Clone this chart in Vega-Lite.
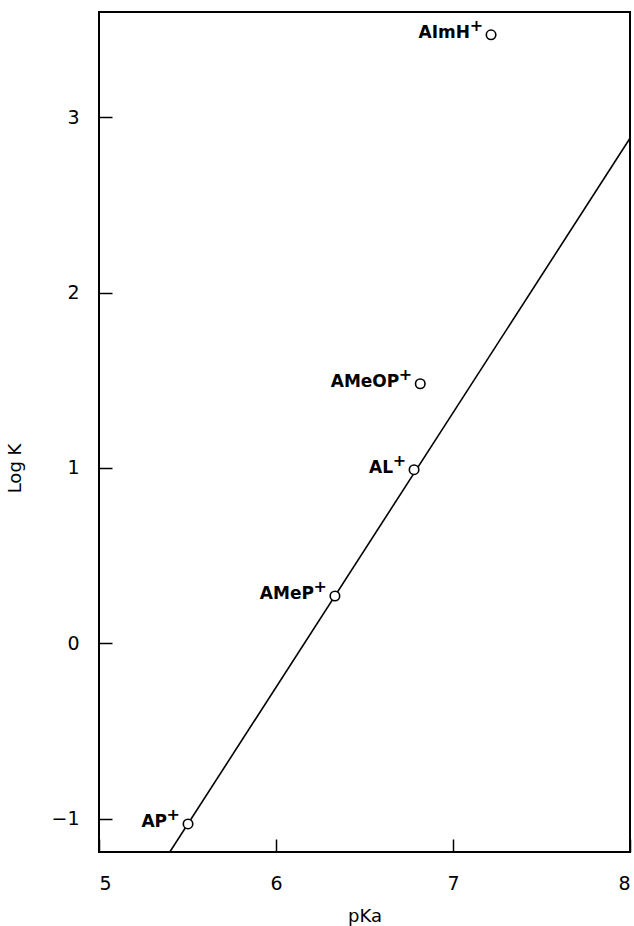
{
  "$schema": "https://vega.github.io/schema/vega-lite/v6.json",
  "width": 531,
  "height": 840,
  "autosize": "none",
  "padding": {"left": 99, "top": 12, "right": 4, "bottom": 74},
  "background": "white",
  "config": {
    "view": {"stroke": "black", "strokeWidth": 2},
    "font": "DejaVu Sans"
  },
  "datasets": {
    "pts": [
      {"pKa": 5.503, "logK": -1.03, "label": "AP"},
      {"pKa": 6.333, "logK": 0.27, "label": "AMeP"},
      {"pKa": 6.78, "logK": 0.99, "label": "AL"},
      {"pKa": 6.815, "logK": 1.48, "label": "AMeOP"},
      {"pKa": 7.215, "logK": 3.47, "label": "AImH"}
    ],
    "fit": [
      {"pKa": 5.40, "logK": -1.19},
      {"pKa": 8.0, "logK": 2.88}
    ]
  },
  "encoding": {
    "x": {
      "field": "pKa", "type": "quantitative",
      "scale": {"domain": [5, 8], "nice": false, "zero": false},
      "axis": {"title": "pKa", "values": [5, 6, 7, 8], "grid": false, "domain": false, "offset": -13, "tickSize": 13, "tickWidth": 1.5, "tickColor": "black", "labelPadding": 22, "labelFontSize": 19, "labelColor": "black", "labelFont": "DejaVu Sans", "titleFont": "DejaVu Sans", "titleFontSize": 18, "titleFontWeight": "normal", "titleColor": "black", "titlePadding": 14, "format": "d"}
    },
    "y": {
      "field": "logK", "type": "quantitative",
      "scale": {"domain": [-1.19, 3.6], "nice": false, "zero": false},
      "axis": {"title": "Log K", "values": [-1, 0, 1, 2, 3], "grid": false, "domain": false, "offset": -13, "tickSize": 13, "tickWidth": 1.5, "tickColor": "black", "labelPadding": 20, "labelFontSize": 19, "labelColor": "black", "labelFont": "DejaVu Sans", "titleFont": "DejaVu Sans", "titleFontSize": 18, "titleFontWeight": "normal", "titleColor": "black", "titlePadding": 26, "titleY": 456, "format": "d"}
    }
  },
  "layer": [
    {
      "data": {"name": "fit"},
      "mark": {"type": "line", "color": "black", "strokeWidth": 1.6, "clip": true}
    },
    {
      "data": {"name": "pts"},
      "mark": {"type": "point", "shape": "circle", "filled": false, "fill": "white", "fillOpacity": 1, "stroke": "black", "strokeWidth": 1.6, "size": 90}
    },
    {
      "data": {"name": "pts"},
      "mark": {"type": "text", "align": "right", "baseline": "middle", "dx": -21, "dy": -2, "fontSize": 17, "fontWeight": "bold", "font": "DejaVu Sans", "color": "black"},
      "encoding": {"text": {"field": "label"}}
    },
    {
      "data": {"name": "pts"},
      "mark": {"type": "text", "text": "+", "align": "right", "baseline": "middle", "dx": -8, "dy": -9, "fontSize": 16, "fontWeight": "bold", "font": "DejaVu Sans", "color": "black"}
    }
  ]
}
